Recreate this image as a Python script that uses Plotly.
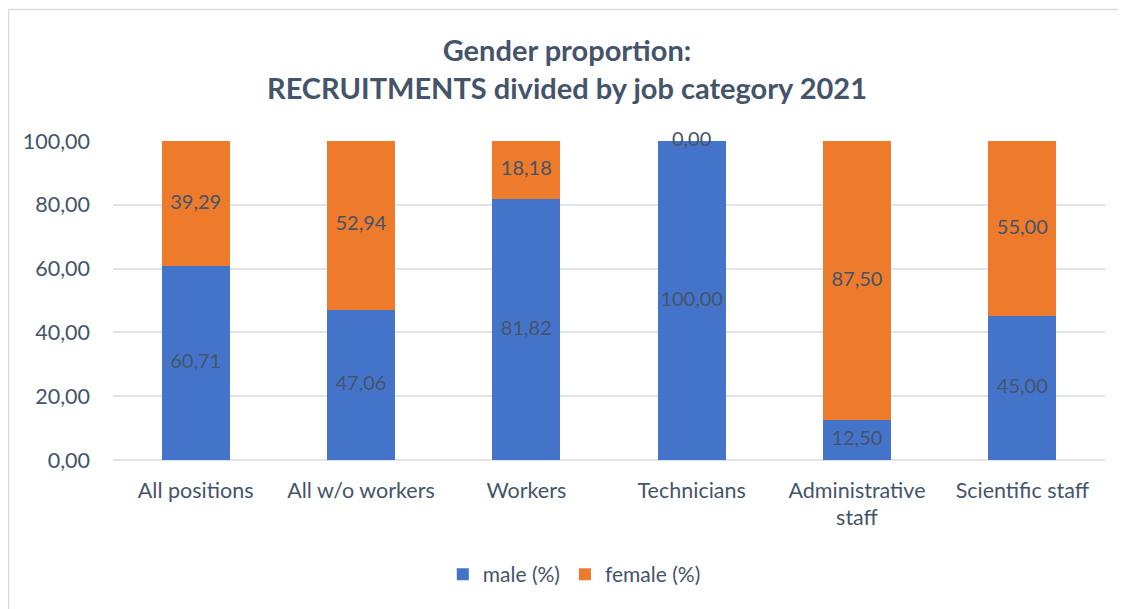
import plotly.graph_objects as go

# data
categories = ["All positions", "All w/o workers", "Workers", "Technicians",
              "Administrative<br>staff", "Scientific staff"]
male_pct = [60.71, 47.06, 81.82, 100.00, 12.50, 45.00]
female_pct = [39.29, 52.94, 18.18, 0.00, 87.50, 55.00]
y_ticks = [0, 20, 40, 60, 80, 100]

TEXT = "#44546A"
FONT = "Lato, 'Open Sans', sans-serif"
W, H = 1118, 601  # page has an 8px body margin


def fmt(v):
    # comma decimal separator, as in the original
    return f"{v:.2f}".replace(".", ",")


fig = go.Figure()
fig.add_trace(go.Bar(x=categories, y=male_pct, name="male (%)",
                     marker=dict(color="#4474CA", line=dict(width=0)),
                     hoverinfo="skip"))
fig.add_trace(go.Bar(x=categories, y=female_pct, name="female (%)",
                     marker=dict(color="#EE7B2B", line=dict(width=0)),
                     hoverinfo="skip"))

# data labels centred in each segment (zero segment sits on the top edge)
label_x = categories + categories
label_y = [m / 2 for m in male_pct] + [m + f / 2 for m, f in zip(male_pct, female_pct)]
label_t = [fmt(v) for v in male_pct] + [fmt(v) for v in female_pct]
fig.add_trace(go.Scatter(x=label_x, y=label_y, text=label_t, mode="text",
                         textfont=dict(size=20, color=TEXT, family=FONT),
                         cliponaxis=False, showlegend=False, hoverinfo="skip"))

# plot area in figure pixels
L, R, T, B = 105, 1097, 133, 452
def px_x(p): return (p - L) / (R - L)
def px_y(p): return (B - p) / (B - T)

# light chart border: only top and left edges visible in the original
fig.add_shape(type="line", xref="paper", yref="paper",
              x0=px_x(0.5), x1=px_x(W + 5), y0=px_y(1.5), y1=px_y(1.5),
              line=dict(color="#D9DCE3", width=1.5))
fig.add_shape(type="line", xref="paper", yref="paper",
              x0=px_x(0.5), x1=px_x(0.5), y0=px_y(1.5), y1=px_y(H + 5),
              line=dict(color="#D9DCE3", width=1.5))

fig.update_layout(
    width=W, height=H,
    barmode="stack", bargap=0.59,
    paper_bgcolor="white", plot_bgcolor="white",
    margin=dict(l=L, r=W - R, t=T, b=H - B, autoexpand=False),
    font=dict(family=FONT, color=TEXT, size=21),
    title=dict(text="<b>Gender proportion:<br>RECRUITMENTS divided by job category 2021</b>",
               x=0.5, xanchor="center", y=0.912, yanchor="top",
               font=dict(size=29, color=TEXT, family=FONT)),
    legend=dict(orientation="h", x=0.465, xanchor="center", y=-0.295, yanchor="top",
                font=dict(size=21, color=TEXT), traceorder="normal"),
    showlegend=True,
)
fig.update_yaxes(range=[0, 100], tickvals=y_ticks,
                 ticktext=[fmt(v) for v in y_ticks], automargin=False,
                 showgrid=True, gridcolor="#E0E3E8", gridwidth=1.5,
                 zeroline=True, zerolinecolor="#E0E3E8", zerolinewidth=1.5,
                 showline=False, ticks="", ticklabelstandoff=22,
                 tickfont=dict(size=21.5, color=TEXT))
fig.update_xaxes(showline=False, ticks="", tickfont=dict(size=21.5, color=TEXT),
                 tickangle=0, automargin=False, ticklabelstandoff=15)

fig.write_html("out.html")
